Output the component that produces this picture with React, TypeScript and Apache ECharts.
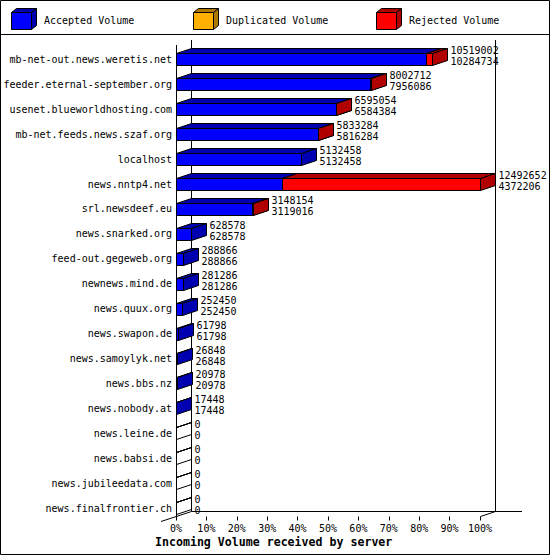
import React, { useEffect, useRef } from 'react';
import * as echarts from 'echarts';

// servers, top to bottom
const hosts = [
  'mb-net-out.news.weretis.net',
  'feeder.eternal-september.org',
  'usenet.blueworldhosting.com',
  'mb-net.feeds.news.szaf.org',
  'localhost',
  'news.nntp4.net',
  'srl.newsdeef.eu',
  'news.snarked.org',
  'feed-out.gegeweb.org',
  'newnews.mind.de',
  'news.quux.org',
  'news.swapon.de',
  'news.samoylyk.net',
  'news.bbs.nz',
  'news.nobody.at',
  'news.leine.de',
  'news.babsi.de',
  'news.jubileedata.com',
  'news.finalfrontier.ch',
];

// total incoming volume (upper number)
const totalVolume = [
  10519002, 8002712, 6595054, 5833284, 5132458, 12492652, 3148154, 628578, 288866, 281286,
  252450, 61798, 26848, 20978, 17448, 0, 0, 0, 0,
];

// accepted volume (lower number)
const acceptedVolume = [
  10284734, 7956086, 6584384, 5816284, 5132458, 4372206, 3119016, 628578, 288866, 281286,
  252450, 61798, 26848, 20978, 17448, 0, 0, 0, 0,
];

const duplicatedVolume = [0, 0, 0, 0, 0, 0, 0, 0, 0, 0, 0, 0, 0, 0, 0, 0, 0, 0, 0];

const legendNames = ['Accepted Volume', 'Duplicated Volume', 'Rejected Volume'];
const axisTitle = 'Incoming Volume received by server';

const FONT = "'DejaVu Sans Mono', monospace";
const DX = 15; // 3d depth
const DY = 5;

const colors = {
  accepted: ['#0000ff', '#0000b0'],
  duplicated: ['#ffb000', '#b07800'],
  rejected: ['#ff0000', '#b00000'],
};

const snap = (v: number) => Math.round(v) + 0.5;

// front face + top + right side of one bar segment
function cube(x0: number, x1: number, t: number, b: number, front: string, dark: string, filled = true) {
  const line = { stroke: '#000', lineWidth: 1 };
  return [
    {
      type: 'polygon',
      shape: { points: [[x0, t], [x0 + DX, t - DY], [x1 + DX, t - DY], [x1, t]] },
      style: { fill: filled ? dark : 'none', ...line },
    },
    {
      type: 'polygon',
      shape: { points: [[x1, t], [x1 + DX, t - DY], [x1 + DX, b - DY], [x1, b]] },
      style: { fill: filled ? dark : 'none', ...line },
    },
    {
      type: 'rect',
      shape: { x: x0, y: t, width: x1 - x0, height: b - t },
      style: { fill: filled ? front : 'none', ...line },
    },
  ];
}

function segmentRenderer(front: string, dark: string, drawEmpty: boolean) {
  return (params: any, api: any) => {
    const idx = api.value(0);
    const start = api.value(1);
    const end = api.value(2);
    const total = api.value(3);
    const empty = total <= 0;
    if (end <= start && !(drawEmpty && empty)) return { type: 'group', children: [] };
    const p0 = api.coord([start, idx]);
    const p1 = api.coord([end, idx]);
    const h = api.size([0, 1])[1] * 0.48;
    const t = snap(p0[1] - h / 2);
    const b = snap(p0[1] + h / 2);
    return {
      type: 'group',
      children: cube(snap(p0[0]), snap(p1[0]), t, b, front, dark, !empty),
    };
  };
}

function legendItem(x: number, name: string, front: string, dark: string) {
  return [
    ...cube(x + 0.5, x + 20.5, 12.5, 29.5, front, dark).map((el) => ({
      ...el,
      shape:
        el.type === 'rect'
          ? el.shape
          : {
              points: (el.shape as any).points.map((p: number[]) => [
                p[0] === x + 0.5 || p[0] === x + 20.5 ? p[0] : p[0] - DX + 5,
                p[1] === 12.5 || p[1] === 29.5 ? p[1] : p[1] + DY - 4,
              ]),
            },
    })),
    {
      type: 'text',
      x: x + 33,
      y: 20,
      style: { text: name, fill: '#000', font: `10px ${FONT}`, verticalAlign: 'middle' },
    },
  ];
}

function frameLine(x1: number, y1: number, x2: number, y2: number) {
  return {
    type: 'line',
    z: 0,
    shape: { x1, y1, x2, y2 },
    style: { stroke: '#000', lineWidth: 1 },
  };
}

function App() {
  const chartRef = useRef<HTMLDivElement>(null);

  useEffect(() => {
    if (!chartRef.current) return undefined;
    document.body.style.margin = '0';

    const maxTotal = Math.max(...totalVolume);

    const option = {
      animation: false,
      backgroundColor: '#ffffff',
      textStyle: { fontFamily: FONT },
      grid: { left: 176, right: 70, top: 47, bottom: 34.5 },
      xAxis: {
        type: 'value',
        min: 0,
        max: maxTotal,
        interval: maxTotal / 10,
        splitLine: { show: false },
        axisLine: { show: false },
        axisTick: { show: true, inside: true, length: 4, lineStyle: { color: '#000' } },
        axisLabel: {
          color: '#000',
          fontFamily: FONT,
          fontSize: 10,
          margin: 3,
          formatter: (v: number) => `${Math.round((v / maxTotal) * 100)}%`,
        },
      },
      yAxis: {
        type: 'category',
        inverse: true,
        data: hosts,
        axisLine: { show: false },
        axisTick: { show: false },
        splitLine: { show: false },
        axisLabel: { color: '#000', fontFamily: FONT, fontSize: 10, margin: 4 },
      },
      graphic: [
        { type: 'rect', z: 0, shape: { x: 0.5, y: 0.5, width: 549, height: 554 }, style: { fill: 'none', stroke: '#000' } },
        frameLine(0, 34.5, 550, 34.5),
        ...legendItem(11, legendNames[0], colors.accepted[0], colors.accepted[1]),
        ...legendItem(193, legendNames[1], colors.duplicated[0], colors.duplicated[1]),
        ...legendItem(376, legendNames[2], colors.rejected[0], colors.rejected[1]),
        // 3d frame
        frameLine(176.5, 45, 176.5, 517),
        frameLine(191.5, 40, 191.5, 511.5),
        frameLine(495.5, 40, 495.5, 511.5),
        frameLine(191.5, 511.5, 522, 511.5),
        frameLine(161, 521.5, 191.5, 511.5),
        frameLine(480.5, 516.5, 495.5, 511.5),
        {
          type: 'text',
          x: 155,
          y: 542,
          style: { text: axisTitle, fill: '#000', font: `bold 11.6px ${FONT}`, verticalAlign: 'middle' },
        },
      ],
      series: [
        {
          name: legendNames[0],
          type: 'custom',
          silent: true,
          renderItem: segmentRenderer(colors.accepted[0], colors.accepted[1], true),
          encode: { x: [1, 2], y: 0 },
          data: hosts.map((h, i) => [i, 0, acceptedVolume[i], totalVolume[i]]),
        },
        {
          name: legendNames[1],
          type: 'custom',
          silent: true,
          renderItem: segmentRenderer(colors.duplicated[0], colors.duplicated[1], false),
          encode: { x: [1, 2], y: 0 },
          data: hosts.map((h, i) => [
            i,
            acceptedVolume[i],
            acceptedVolume[i] + duplicatedVolume[i],
            totalVolume[i],
          ]),
        },
        {
          name: legendNames[2],
          type: 'custom',
          silent: true,
          renderItem: segmentRenderer(colors.rejected[0], colors.rejected[1], false),
          encode: { x: [1, 2], y: 0 },
          data: hosts.map((h, i) => [
            i,
            acceptedVolume[i] + duplicatedVolume[i],
            totalVolume[i],
            totalVolume[i],
          ]),
        },
        {
          name: 'values',
          type: 'custom',
          silent: true,
          encode: { x: 1, y: 0 },
          renderItem: (params: any, api: any) => {
            const idx = api.value(0);
            const p = api.coord([api.value(1), idx]);
            return {
              type: 'text',
              x: Math.round(p[0]) + DX + 3.5,
              y: p[1] - 3,
              style: {
                text: `${api.value(1)}\n${api.value(2)}`,
                fill: '#000',
                font: `10px ${FONT}`,
                lineHeight: 11,
                verticalAlign: 'middle',
                align: 'left',
              },
            };
          },
          data: hosts.map((h, i) => [i, totalVolume[i], acceptedVolume[i]]),
        },
      ],
    };

    const myChart = echarts.init(chartRef.current, null, { renderer: 'svg' });
    myChart.setOption(option as any);

    return () => {
      myChart.dispose();
    };
  }, []);

  return <div ref={chartRef} style={{ width: '550px', height: '555px' }} />;
}

export default App;
